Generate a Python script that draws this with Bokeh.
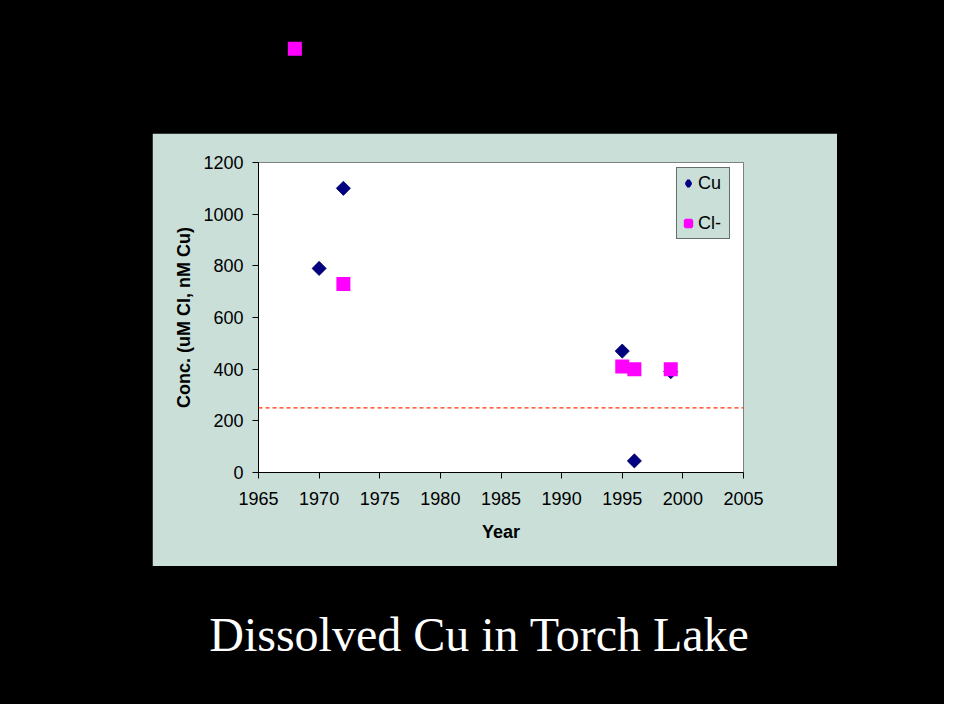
from bokeh.plotting import figure
from bokeh.models import (ColumnDataSource, Range1d, FixedTicker, Span, Legend,
                          LegendItem, Label)
from bokeh.layouts import column, row
from bokeh.embed import file_html
from bokeh.resources import INLINE
from bokeh.core.validation import silence
from bokeh.core.validation.warnings import MISSING_RENDERERS
import math

silence(MISSING_RENDERERS, True)

# ---- data ----
cu_years = [1970, 1972, 1995, 1996, 1999]
cu_vals = [790, 1100, 470, 45, 390]
cl_years = [1968, 1972, 1995, 1996, 1999]
cl_vals = [1640, 730, 410, 400, 400]
guideline = 250
x_ticks = [1965, 1970, 1975, 1980, 1985, 1990, 1995, 2000, 2005]
y_ticks = [0, 200, 400, 600, 800, 1000, 1200]
title_text = "Dissolved Cu in Torch Lake"

PANEL = "#C9DFD8"
BLACK = "#000000"
FONT = "Liberation Sans"
X0, X1 = 1965, 2005
Y0, Y1 = 0, 1200

cu_src = ColumnDataSource(dict(x=cu_years, y=cu_vals))
cl_src = ColumnDataSource(dict(x=cl_years, y=cl_vals))

# ---- geometry (pixels) ----
TOTAL_W = 944
TOP_H = 133
MID_H = 433
BOT_H = 704 - TOP_H - MID_H
LEFT_W = 152
MAIN_W = 685
RIGHT_W = TOTAL_W - LEFT_W - MAIN_W
B_LEFT, B_RIGHT, B_TOP, B_BOTTOM = 106, 94, 29, 94
FRAME_W = MAIN_W - B_LEFT - B_RIGHT
FRAME_H = MID_H - B_TOP - B_BOTTOM


def blank(w, h, **kw):
    f = figure(width=w, height=h, toolbar_location=None, output_backend="svg",
               x_axis_location=None, y_axis_location=None,
               background_fill_color=BLACK, border_fill_color=BLACK,
               outline_line_color=None, min_border=0, frame_align=False, **kw)
    f.grid.visible = False
    return f


# ---- main chart ----
p = figure(width=MAIN_W, height=MID_H, toolbar_location=None, output_backend="svg",
           x_range=Range1d(X0, X1), y_range=Range1d(Y0, Y1),
           background_fill_color="white", border_fill_color=PANEL,
           min_border_left=B_LEFT, min_border_right=B_RIGHT,
           min_border_top=B_TOP, min_border_bottom=B_BOTTOM,
           frame_align=False,
           x_axis_label="Year", y_axis_label="Conc. (uM Cl, nM Cu)")
p.outline_line_color = "#808080"
p.outline_line_width = 1
p.grid.visible = False

for ax in (p.xaxis[0], p.yaxis[0]):
    ax.axis_line_color = BLACK
    ax.major_tick_line_color = BLACK
    ax.major_tick_in = 0
    ax.major_tick_out = 6
    ax.minor_tick_line_color = None
    ax.major_label_text_font = FONT
    ax.major_label_text_font_size = "18px"
    ax.major_label_text_color = BLACK
    ax.axis_label_text_font = FONT
    ax.axis_label_text_font_size = "18px"
    ax.axis_label_text_font_style = "bold"
    ax.axis_label_text_color = BLACK

p.xaxis[0].ticker = FixedTicker(ticks=x_ticks)
p.yaxis[0].ticker = FixedTicker(ticks=y_ticks)
p.xaxis[0].major_label_standoff = 13
p.yaxis[0].major_label_standoff = 9
p.xaxis[0].axis_label_standoff = 14
p.yaxis[0].axis_label_standoff = 6

p.add_layout(Span(location=guideline, dimension="width", line_color="#FF3000",
                  line_dash="4 3", line_width=1.3))

cu_r = p.scatter("x", "y", source=cu_src, marker="square", angle=math.pi / 4,
                 size=10, fill_color="#000080", line_color="#00005A", line_width=0.8)
cl_r = p.scatter("x", "y", source=cl_src, marker="square", size=14,
                 fill_color="#FF00FF", line_color=None)

# legend swatches: hidden renderers of the same data (legend markers are
# drawn unrotated, so a diamond marker stands in for the rotated square)
cu_key = p.scatter("x", "y", source=cu_src, marker="diamond",
                   fill_color="#000080", line_color="#000080", line_width=3,
                   visible=False)
cl_key = p.scatter("x", "y", source=cl_src, marker="square",
                   fill_color="#FF00FF", line_color="#FF00FF", line_width=3,
                   visible=False)

legend = Legend(items=[LegendItem(label="Cu", renderers=[cu_key]),
                       LegendItem(label="Cl-", renderers=[cl_key])],
                location=(418, 233), margin=0, padding=3, spacing=16,
                glyph_width=16, glyph_height=24, label_height=24, label_width=28,
                label_standoff=2, click_policy="none",
                label_text_font=FONT, label_text_font_size="18px",
                label_text_color=BLACK,
                border_line_color=BLACK, border_line_width=1,
                background_fill_color=PANEL, background_fill_alpha=1)
p.add_layout(legend)

# ---- top strip: same scales as the chart, continued above the panel ----
px_x = FRAME_W / (X1 - X0)
px_y = FRAME_H / (Y1 - Y0)
frame_left_abs = LEFT_W + B_LEFT
frame_right_abs = LEFT_W + B_LEFT + FRAME_W
top_x0 = X0 - frame_left_abs / px_x
top_x1 = X1 + (TOTAL_W - frame_right_abs) / px_x
top_y0 = Y1 + B_TOP / px_y
top_y1 = top_y0 + TOP_H / px_y
top = blank(TOTAL_W, TOP_H, x_range=Range1d(top_x0, top_x1),
            y_range=Range1d(top_y0, top_y1))
top.scatter("x", "y", source=cl_src, marker="square", size=14,
            fill_color="#FF00FF", line_color=None)

left = blank(LEFT_W, MID_H)
right = blank(RIGHT_W, MID_H)

bottom = blank(TOTAL_W, BOT_H, x_range=Range1d(0, TOTAL_W), y_range=Range1d(0, BOT_H))
bottom.add_layout(Label(x=479, y=70, x_units="screen", y_units="screen",
                        text=title_text, text_align="center",
                        text_baseline="alphabetic", text_color="white",
                        text_font="Liberation Serif", text_font_size="48px"))

layout = column(top, row(left, p, right, spacing=0, styles={"background-color": "black"}),
                bottom, spacing=0, styles={"background-color": "black"})

open("out.html", "w").write(file_html(layout, INLINE))
